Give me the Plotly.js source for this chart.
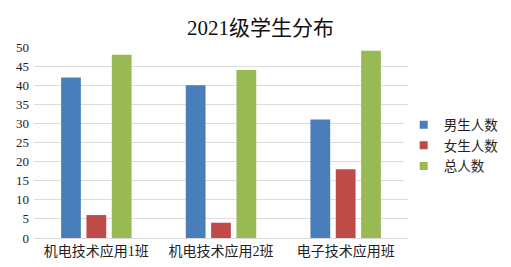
<!DOCTYPE html>
<html><head><meta charset="utf-8">
<script src="https://cdn.plot.ly/plotly-3.0.1.min.js"></script>
<style>body{margin:0;padding:0;background:#fff}#c{width:511px;height:267px}</style>
</head><body><div id="c"></div>
<script>
const categories = ["机电技术应用1班", "机电技术应用2班", "电子技术应用班"];
const seriesNames = ["男生人数", "女生人数", "总人数"];
const boys = [42, 40, 31];
const girls = [6, 4, 18];
const totals = [48, 44, 49];
const colors = ["#4a7ebb", "#be4b48", "#98b954"];
const yTicks = [0, 5, 10, 15, 20, 25, 30, 35, 40, 45, 50];

const FONT = '"Liberation Serif", "Noto Sans CJK SC", serif';
const series = [boys, girls, totals];
const data = series.map((v, i) => ({
  type: 'bar', x: categories, y: v, name: seriesNames[i],
  marker: {color: colors[i]}, showlegend: false, legendgroup: 'g' + i
})).concat(series.map((v, i) => ({
  type: 'scatter', mode: 'markers', x: [categories[0]], y: [null], name: seriesNames[i],
  marker: {color: colors[i], symbol: 'square', size: 8}, legendgroup: 'g' + i
})));
Plotly.newPlot('c', data, {
  width: 511, height: 267,
  margin: {l: 34, r: 103, t: 47, b: 29, autoexpand: false},
  paper_bgcolor: '#fff', plot_bgcolor: '#fff',
  title: {text: '2021级学生分布', font: {family: FONT, size: 21, color: '#111'}, x: 0.51, xanchor: 'center', y: 0.895, yanchor: 'middle'},
  barmode: 'group', bargap: 0.39, bargroupgap: 0.22,
  font: {family: FONT, color: '#222'},
  xaxis: {tickfont: {family: FONT, size: 14, color: '#222'}, showline: true, linecolor: '#d9d9d9', ticks: ''},
  yaxis: {range: [0, 50], tickvals: yTicks, tickfont: {family: FONT, size: 13, color: '#222'}, gridcolor: '#dcdcdc', zeroline: false, showline: false, ticklen: 0, ticklabelstandoff: 4},
  legend: {xref: 'container', yref: 'container', x: 0.79, y: 0.455, yanchor: 'middle', xanchor: 'left', font: {family: FONT, size: 13.5, color: '#222'}, itemwidth: 30, tracegroupgap: 0}
}, {displayModeBar: false, staticPlot: true});
</script></body></html>
